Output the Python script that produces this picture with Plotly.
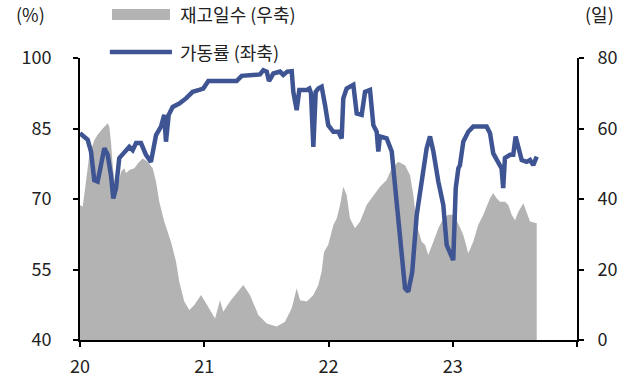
import plotly.graph_objects as go

# 가동률 (좌축, %) — x given as years since 2020
rate_t = [0.000,0.062,0.089,0.115,0.142,0.169,0.196,0.223,0.249,0.268,
          0.290,0.316,0.357,0.397,0.424,0.451,0.491,0.531,0.571,0.612,
          0.652,0.678,0.692,0.714,0.746,0.799,0.853,0.907,0.960,0.992,
          1.033,1.127,1.261,1.301,1.449,1.475,1.503,1.521,1.556,1.610,
          1.636,1.668,1.704,1.717,1.744,1.765,1.825,1.846,1.859,1.878,
          1.897,1.918,1.945,1.972,1.998,2.039,2.079,2.106,2.119,2.146,
          2.200,2.227,2.267,2.294,2.334,2.361,2.388,2.401,2.414,2.468,
          2.509,2.535,2.575,2.616,2.642,2.674,2.710,2.750,2.790,2.817,
          2.844,2.884,2.924,2.951,2.978,3.004,3.024,3.045,3.058,3.085,
          3.125,3.165,3.273,3.300,3.326,3.366,3.393,3.406,3.420,3.461,
          3.487,3.506,3.533,3.555,3.595,3.622,3.648,3.676]
rate_v = [84,82.6,80,74,73.7,77.2,80.8,79.4,75.1,70.1,
          72.3,78.7,80.1,81.1,80.4,81.9,81.9,79.4,77.9,83.6,
          85.4,87.9,82.2,87.9,89.6,90.3,91.4,92.8,93.2,93.5,
          95.1,95.1,95.1,96.2,96.5,97.4,97.1,95.1,96.7,97.1,
          96.4,97.1,97.2,92.8,88.9,93.2,93.2,93.5,92.5,81.1,
          92.8,93.5,93.9,90,85.7,84.3,84.3,82.9,91.4,93.5,
          94.3,88.2,87.9,92.8,93.2,85.7,84.3,80.1,83.3,82.9,
          80.1,73,61.6,51,50.3,54.5,66.6,73.7,80.8,83.3,
          80.1,73.7,68.7,60.2,58.8,57,72.3,76.5,77.2,82.2,
          84.3,85.4,85.4,84,79.7,78,76.5,72.3,78.7,79.4,
          79.4,83.3,80.4,78.3,77.9,78.3,77.2,79]

# 재고일수 (우축, 일)
inv_t = [0.000,0.022,0.048,0.075,0.115,0.142,0.183,0.223,0.236,0.249,
         0.263,0.284,0.303,0.330,0.357,0.370,0.397,0.437,0.477,0.505,
         0.545,0.585,0.612,0.638,0.678,0.732,0.773,0.799,0.839,0.880,
         0.920,0.974,1.006,1.087,1.127,1.153,1.207,1.314,1.368,1.435,
         1.503,1.583,1.650,1.704,1.744,1.771,1.825,1.878,1.918,1.945,
         1.964,1.998,2.039,2.066,2.093,2.119,2.146,2.173,2.213,2.254,
         2.307,2.361,2.414,2.468,2.509,2.562,2.616,2.656,2.683,2.710,
         2.750,2.777,2.803,2.844,2.884,2.924,2.964,3.004,3.045,3.085,
         3.125,3.165,3.205,3.246,3.273,3.300,3.326,3.353,3.380,3.421,
         3.447,3.474,3.501,3.528,3.568,3.595,3.622,3.676]
inv_v = [38.3,37.8,44.9,52.5,56.7,58.2,60,61.5,60.5,56.3,
         49.6,43,43.5,47.7,48.7,47.3,48.2,48.7,50.6,51.5,
         50.6,48.7,44.9,39.2,33.6,27.9,22.2,16.5,10.9,8.5,
         9.9,12.8,10.9,6.1,11.3,8,10.9,15.6,12.8,7.1,
         4.7,3.8,5.2,9,14.7,11.3,10.9,12.8,15.6,19.4,
         25,27,32.6,34.5,38.3,43.5,41.1,34.5,31.7,33.6,
         38.3,41.1,43.5,45.4,48.7,50.6,49.6,46.8,41.1,32.6,
         27.9,27,24.1,27.9,31.7,34.5,35.5,35.5,33,29.8,
         24.6,27.9,32.6,35.5,37.8,40.2,41.6,40.2,39.2,39.2,
         38.3,35.5,34,36.4,38.8,36.4,33.6,33.1]

base_year = 2020
x_ticks = [2020, 2021, 2022, 2023, 2024]
x_labels = ["20", "21", "22", "23", ""]
left_ticks = [40, 55, 70, 85, 100]
right_ticks = [0, 20, 40, 60, 80]

name_inv = "재고일수 (우축)"
name_rate = "가동률 (좌축)"

FONT = "Noto Sans CJK KR"
TXT = "#222222"
GRAY = "#B3B3B3"
BLUE = "#3F5593"

fig = go.Figure()
fig.add_trace(go.Scatter(
    x=[base_year + t for t in inv_t], y=inv_v, name=name_inv,
    mode="lines", line=dict(width=0, color=GRAY), fill="tozeroy",
    fillcolor=GRAY, yaxis="y", hoverinfo="skip"))
fig.add_trace(go.Scatter(
    x=[base_year + t for t in rate_t], y=rate_v, name=name_rate,
    mode="lines", line=dict(width=4.5, color=BLUE), yaxis="y2"))

axis_common = dict(showline=True, linecolor="black", linewidth=2,
                   ticks="outside", ticklen=5, tickwidth=2, tickcolor="black",
                   showgrid=False, zeroline=False, automargin=False,
                   tickfont=dict(family=FONT, size=18, color=TXT))

fig.update_layout(
    width=631, height=379,
    margin=dict(l=80, r=54, t=58, b=39, autoexpand=False),
    paper_bgcolor="white", plot_bgcolor="white",
    showlegend=False,
    xaxis=dict(range=[2020, 2024], tickvals=x_ticks, ticktext=x_labels,
               ticklabelstandoff=4, **axis_common),
    yaxis=dict(range=[0, 80], tickvals=right_ticks, side="right",
               ticklabelstandoff=10, **axis_common),
    yaxis2=dict(range=[40, 100], tickvals=left_ticks, side="left",
                overlaying="y", ticklabelstandoff=18, **axis_common),
)

# legend drawn manually
fig.add_shape(type="rect", xref="paper", yref="paper",
              x0=0.0644, x1=0.181, y0=1.135, y1=1.174,
              fillcolor=GRAY, line=dict(width=0))
fig.add_shape(type="line", xref="paper", yref="paper",
              x0=0.060, x1=0.185, y0=1.021, y1=1.021,
              line=dict(color=BLUE, width=4.5))
fig.add_annotation(text=name_inv, xref="paper", yref="paper", x=0.197, y=1.156,
                   xanchor="left", yanchor="middle", showarrow=False,
                   font=dict(family=FONT, size=18, color=TXT))
fig.add_annotation(text=name_rate, xref="paper", yref="paper", x=0.197, y=1.021,
                   xanchor="left", yanchor="middle", showarrow=False,
                   font=dict(family=FONT, size=18, color=TXT))
fig.add_annotation(text="(%)", xref="paper", yref="paper", x=-0.1006, y=1.156,
                   xanchor="center", yanchor="middle", showarrow=False,
                   font=dict(family=FONT, size=18, color=TXT))
fig.add_annotation(text="(일)", xref="paper", yref="paper", x=1.046, y=1.156,
                   xanchor="center", yanchor="middle", showarrow=False,
                   font=dict(family=FONT, size=18, color=TXT))

fig.write_html("out.html")
